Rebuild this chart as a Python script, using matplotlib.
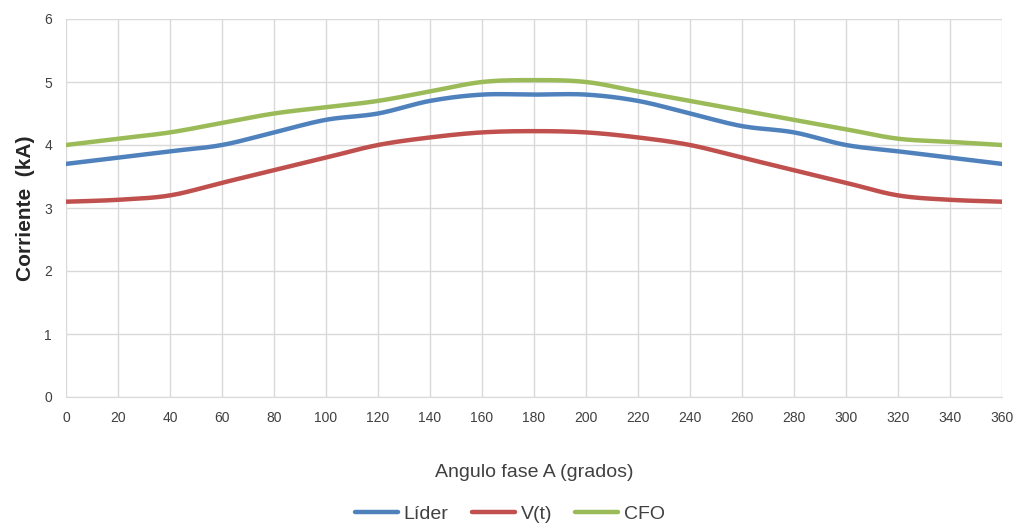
import numpy as np
import matplotlib
matplotlib.use("Agg")
import matplotlib.pyplot as plt

plt.rcParams["font.family"] = ["Liberation Sans Narrow", "Liberation Sans", "DejaVu Sans"]

angulo = [0, 20, 40, 60, 80, 100, 120, 140, 160, 180, 200, 220, 240, 260, 280, 300, 320, 340, 360]
lider = [3.7, 3.8, 3.9, 4.0, 4.2, 4.4, 4.5, 4.7, 4.8, 4.8, 4.8, 4.7, 4.5, 4.3, 4.2, 4.0, 3.9, 3.8, 3.7]
vt = [3.1, 3.13, 3.2, 3.4, 3.6, 3.8, 4.0, 4.12, 4.2, 4.22, 4.2, 4.12, 4.0, 3.8, 3.6, 3.4, 3.2, 3.13, 3.1]
cfo = [4.0, 4.1, 4.2, 4.35, 4.5, 4.6, 4.7, 4.85, 5.0, 5.03, 5.0, 4.85, 4.7, 4.55, 4.4, 4.25, 4.1, 4.05, 4.0]


def suave(x, y, n=30):
    # curva tipo Excel (Catmull-Rom) entre los puntos
    x = np.asarray(x, float)
    y = np.asarray(y, float)
    xs, ys = [], []
    for i in range(len(x) - 1):
        x0, y0 = (x[i - 1], y[i - 1]) if i > 0 else (x[i], y[i])
        x3, y3 = (x[i + 2], y[i + 2]) if i + 2 < len(x) else (x[i + 1], y[i + 1])
        x1, y1, x2, y2 = x[i], y[i], x[i + 1], y[i + 1]
        t = np.linspace(0, 1, n)
        c1x, c1y = x1 + (x2 - x0) / 6, y1 + (y2 - y0) / 6
        c2x, c2y = x2 - (x3 - x1) / 6, y2 - (y3 - y1) / 6
        bx = (1 - t) ** 3 * x1 + 3 * (1 - t) ** 2 * t * c1x + 3 * (1 - t) * t ** 2 * c2x + t ** 3 * x2
        by = (1 - t) ** 3 * y1 + 3 * (1 - t) ** 2 * t * c1y + 3 * (1 - t) * t ** 2 * c2y + t ** 3 * y2
        xs.extend(bx)
        ys.extend(by)
    return xs, ys


fig = plt.figure(figsize=(10.2, 5.27), dpi=100)
ax = fig.add_axes([66 / 1020, 1 - 397 / 527, 936 / 1020, 378 / 527])

for serie, color, nombre in [(lider, "#4F81BD", "Líder"), (vt, "#C0504D", "V(t)"), (cfo, "#9BBB59", "CFO")]:
    sx, sy = suave(angulo, serie)
    ax.plot(sx, sy, color=color, linewidth=3.2, label=nombre, solid_capstyle="round")

ax.set_xlim(0, 360)
ax.set_ylim(0, 6)
ax.set_xticks(angulo)
ax.set_yticks(range(0, 7))
ax.grid(True, color="#d9d9d9", linewidth=1)
ax.set_axisbelow(True)
for s in ["top", "right", "left"]:
    ax.spines[s].set_visible(False)
ax.spines["bottom"].set_color("#d9d9d9")
ax.tick_params(length=0, labelsize=10, colors="#404040", pad=10)

ax.set_xlabel("Angulo fase A (grados)", fontsize=14, color="#404040", labelpad=28)
ax.set_ylabel("Corriente  (kA)", fontsize=15, fontweight="bold", color="#262626", labelpad=7)

fig.legend(loc="center", bbox_to_anchor=(0.5, 1 - 514 / 527), ncol=3, frameon=False,
           fontsize=14, handlelength=2.2, columnspacing=1.2, handletextpad=0.3,
           labelcolor="#404040")

fig.savefig("out.png", dpi=100)
